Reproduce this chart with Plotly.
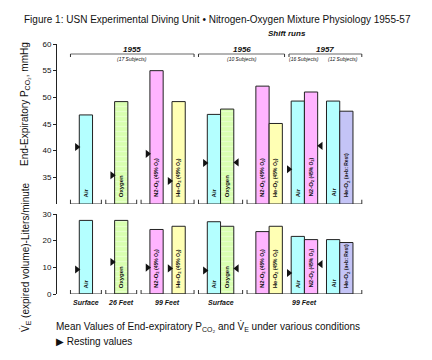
import plotly.graph_objects as go

# ---------------- data ----------------
bar_labels = [
    "Air", "Oxygen", "N2-O2 (45% O2)", "He-O2 (45% O2)",
    "Air", "Oxygen", "N2-O2 (45% O2)", "He-O2 (45% O2)",
    "Air", "N2-O2 (45% O2)", "Air", "He-O2 (a+b: Rest)",
]
gas = ["air", "oxy", "n2o2", "heo2", "air", "oxy", "n2o2", "heo2",
       "air", "n2o2", "air", "heo2r"]
pco2 = [46.7, 49.2, 55.0, 49.2, 46.8, 47.8, 52.1, 45.1, 49.3, 51.0, 49.3, 47.4]
pco2_rest = [40.7, 35.4, 39.4, 34.3, 37.7, 37.8, None, None, 36.5, 40.9, None, None]
ve = [27.6, 27.6, 24.2, 25.4, 27.1, 25.4, 23.4, 25.4, 21.6, 20.4, 20.4, 19.3]
ve_rest = [9.2, 12.0, 9.9, 9.6, 8.8, 9.6, None, None, 7.9, 11.2, None, None]
depth_labels = ["Surface", "26 Feet", "99 Feet", "Surface", "99 Feet"]
# bars per depth group, split in sub-groups
group_bars = [[[0]], [[1]], [[2], [3]], [[4, 5]], [[6, 7], [8, 9], [10, 11]]]
years = ["1955", "1956", "1957"]
year_bars = [(0, 3), (4, 7), (8, 11)]
subjects = ["(17 Subjects)", "(10 Subjects)", "(16 Subjects)", "(12 Subjects)"]
subject_bars = [(0, 3), (4, 7), (8, 9), (10, 11)]

# ---------------- styles ----------------
colors = {"air": "#b4ffff", "oxy": "#d9ffb0", "n2o2": "#ffb4ff",
          "heo2": "#ffffb4", "heo2r": "#c4c4f6"}
rest_side = ["L", "L", "L", "L", "L", "R", None, None, "L", "R", None, None]
FONT = "Liberation Sans"
INK = "#111111"

# ---------------- x layout in units ----------------
PAD, BW, SUBGAP, GRPGAP = 2, 3, 2, 1
x_left = {}
group_span = []
first_in_group, last_in_group = set(), set()
cur = 0
for g in group_bars:
    start = cur
    cur += PAD
    for si, sub in enumerate(g):
        if si:
            cur += SUBGAP
        for b in sub:
            x_left[b] = cur
            cur += BW
    first_in_group.add(g[0][0]); last_in_group.add(g[-1][-1])
    cur += PAD
    group_span.append((start, cur))
    cur += GRPGAP

n = len(pco2)
xc = [x_left[i] + BW / 2 for i in range(n)]


def span(a, b):
    l = x_left[a] - (PAD if a in first_in_group else 0.5)
    r = x_left[b] + BW + (PAD if b in last_in_group else 0.5)
    return l, r


# pixel geometry
W, H = 432, 360
ML, MR, MT, MB = 57, 66, 44, 66
PH = H - MT - MB


def py(p):  # pixel y -> paper y
    return (H - MB - p) / PH


def pxp(p):  # pixel x -> paper x
    return (p - ML) / (W - ML - MR)


fig = go.Figure()

for row, (vals, rest, yname) in enumerate([(pco2, pco2_rest, "y"), (ve, ve_rest, "y2")]):
    for i in range(n):
        mk = dict(color=colors[gas[i]], line=dict(color="#222222", width=1))
        if gas[i] == "oxy":
            mk["pattern"] = dict(shape="-", fgcolor="#f2ffe4", size=5, solidity=0.25,
                                 fillmode="overlay")
        fig.add_trace(go.Bar(x=[xc[i]], y=[vals[i]], width=BW, marker=mk,
                             xaxis="x" if row == 0 else "x2", yaxis=yname,
                             showlegend=False, hoverinfo="skip"))
    # resting triangles
    lx, ly, lsym = [], [], []
    for i in range(n):
        if rest[i] is None:
            continue
        if rest_side[i] == "L":
            lx.append(x_left[i] - 0.55); lsym.append("triangle-right")
        else:
            lx.append(x_left[i] + BW + 0.7); lsym.append("triangle-left")
        ly.append(rest[i])
    fig.add_trace(go.Scatter(x=lx, y=ly, mode="markers",
                             marker=dict(symbol=lsym, size=7, color=INK, line=dict(width=0)),
                             xaxis="x" if row == 0 else "x2", yaxis=yname,
                             showlegend=False, hoverinfo="skip"))


def rich(lbl):
    small = "<span style='font-size:5px'>"
    if lbl.startswith("N2-O2"):
        return "N2-O<sub>2</sub>" + small + " (45% O<sub>2</sub>)</span>"
    if lbl.startswith("He-O2 (45"):
        return "He-O<sub>2</sub>" + small + " (45% O<sub>2</sub>)</span>"
    if lbl.startswith("He-O2 (a"):
        return "He-O<sub>2</sub>" + small + " (a+b: Rest)</span>"
    return lbl


ann = []
shapes = []
# bar labels inside bars
for i in range(n):
    for yref, y0, ys in [("y", 30, 5), ("y2", 0, 4)]:
        ann.append(dict(x=xc[i], y=y0, xref="x", yref=yref, yshift=ys,
                        text="<b>" + rich(bar_labels[i]) + "</b>", textangle=-90,
                        xanchor="center", yanchor="bottom", showarrow=False,
                        font=dict(family=FONT, size=6, color=INK)))

# baseline brackets per depth group
for (a, b) in group_span:
    for yref, base, tk in [("y", 30, 0.8), ("y2", 0, 1.5)]:
        shapes.append(dict(type="path", xref="x", yref=yref,
                           path=f"M{a},{base + tk} L{a},{base} L{b},{base} L{b},{base + tk}",
                           line=dict(color="#333333", width=1)))
# depth labels
for k, (a, b) in enumerate(group_span):
    ann.append(dict(x=(a + b) / 2, y=py(302), xref="x", yref="paper",
                    text="<b><i>" + depth_labels[k] + "</i></b>", showarrow=False,
                    xanchor="center", yanchor="middle",
                    font=dict(family=FONT, size=7, color=INK)))

# year brackets
YL = py(54)
TK = 3 / PH
for k, (a, b) in enumerate(year_bars):
    l, r = span(a, b)
    shapes.append(dict(type="line", xref="x", yref="paper", x0=l, x1=r, y0=YL, y1=YL,
                       line=dict(color="#9a9a9a", width=1.6)))
    for xx in (l, r):
        shapes.append(dict(type="line", xref="x", yref="paper", x0=xx, x1=xx,
                           y0=YL, y1=YL - TK, line=dict(color="#333333", width=1)))
    ann.append(dict(x=(l + r) / 2, y=py(49), xref="x", yref="paper",
                    text="<b><i>" + years[k] + "</i></b>", showarrow=False,
                    xanchor="center", yanchor="middle",
                    font=dict(family=FONT, size=8, color=INK)))
for k, (a, b) in enumerate(subject_bars):
    l, r = span(a, b)
    ann.append(dict(x=(l + r) / 2, y=py(59), xref="x", yref="paper",
                    text="<i>" + subjects[k] + "</i>", showarrow=False,
                    xanchor="center", yanchor="middle",
                    font=dict(family=FONT, size=5, color=INK)))
# shift runs
sr = (span(*year_bars[1])[1] + span(*year_bars[2])[0]) / 2
ann.append(dict(x=sr, y=py(34), xref="x", yref="paper",
                text="<b><i>Shift runs</i></b>", showarrow=False,
                xanchor="center", yanchor="middle",
                font=dict(family=FONT, size=8, color=INK)))

# title
ann.append(dict(x=pxp(22), y=py(20), xref="paper", yref="paper", xanchor="left",
                yanchor="middle", showarrow=False,
                text="Figure 1: USN Experimental Diving Unit \u2022 Nitrogen-Oxygen Mixture Physiology 1955-57",
                font=dict(family=FONT, size=10, color=INK)))
# y titles
ann.append(dict(x=pxp(25), y=py(104), xref="paper", yref="paper", textangle=-90,
                xanchor="center", yanchor="middle", showarrow=False,
                text="End-Expiratory P<sub>CO\u2082</sub>, mmHg",
                font=dict(family=FONT, size=10, color=INK)))
ann.append(dict(x=pxp(25), y=py(257), xref="paper", yref="paper", textangle=-90,
                xanchor="center", yanchor="middle", showarrow=False,
                text="V\u0307<sub>E</sub> (expired volume)-Liters/minute",
                font=dict(family=FONT, size=10, color=INK)))
# caption
ann.append(dict(x=pxp(54), y=py(326), xref="paper", yref="paper", xanchor="left",
                yanchor="middle", showarrow=False,
                text="Mean Values of End-expiratory P<sub>CO\u2082</sub> and V\u0307<sub>E</sub> under various conditions",
                font=dict(family=FONT, size=10, color=INK)))
ann.append(dict(x=pxp(54), y=py(341), xref="paper", yref="paper", xanchor="left",
                yanchor="middle", showarrow=False,
                text="\u25B6 Resting values",
                font=dict(family=FONT, size=10, color=INK)))

xr = [-3.05, 66.95]
yax = dict(showline=True, linecolor="#222222", linewidth=1, ticks="outside",
           ticklen=3, tickcolor="#222222", showgrid=False, zeroline=False,
           tickfont=dict(family=FONT, size=8, color=INK), tickprefix="<b>", ticksuffix="</b>")
fig.update_layout(
    width=W, height=H, margin=dict(l=ML, r=MR, t=MT, b=MB),
    paper_bgcolor="white", plot_bgcolor="white", bargap=0, barmode="overlay",
    xaxis=dict(range=xr, visible=False, domain=[0, 1], anchor="y"),
    xaxis2=dict(range=xr, visible=False, domain=[0, 1], anchor="y2", matches="x"),
    yaxis=dict(domain=[0.36, 1], range=[30, 60], tickvals=[35, 40, 45, 50, 55, 60], **yax),
    yaxis2=dict(domain=[0, 0.32], range=[0, 30], tickvals=[0, 10, 20, 30], **yax),
    annotations=ann, shapes=shapes, font=dict(family=FONT),
)
fig.write_html("out.html", config={"displayModeBar": False, "staticPlot": True},
               post_script="document.body.style.margin='0px';document.body.style.padding='0px';")
